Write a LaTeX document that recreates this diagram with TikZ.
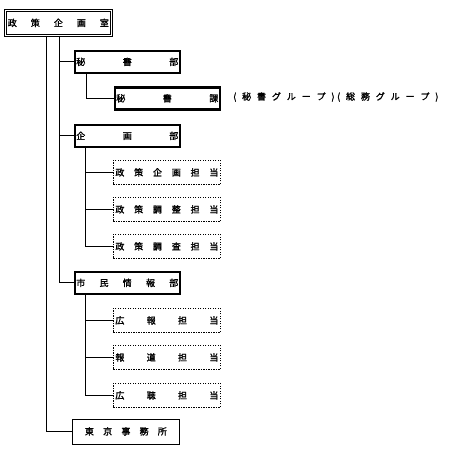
\documentclass[tikz,border=0pt]{standalone}
\usepackage{fontspec}
\setmainfont{Noto Sans CJK JP}[FakeBold=1.6]
\newcommand\dst[2]{\makebox[#1pt][s]{#2}}
\newcommand\gsp{\hspace{5.9pt}}
\begin{document}
\begin{tikzpicture}[x=1pt,y=-1pt,
  every node/.style={font=\fontsize{9}{10}\selectfont, inner sep=0pt},
  unit/.style={draw, minimum width=108pt, minimum height=25pt, anchor=north west},
  topbox/.style={unit, double, double distance=1.3pt, line width=0.7pt, minimum width=106pt, minimum height=25pt},
  bu/.style={unit, line width=2.6pt, minimum width=105pt, minimum height=22pt},
  tanto/.style={unit, dash pattern=on 1.4pt off 1.1pt, line width=1.8pt, minimum width=107pt, minimum height=24pt},
  plain/.style={unit, line width=0.8pt, minimum width=107pt, minimum height=25pt},
  conn/.style={line width=0.8pt}]
\useasboundingbox (0,0) rectangle (455,451);
% coordinates of trunk lines
\coordinate (tl) at (46,0);
\coordinate (tr) at (59,0);
\coordinate (c1) at (86,0);
\coordinate (c2) at (85,0);
% nodes
\node[topbox] (top) at (5,10) {\dst{101}{政\hfill 策\hfill 企\hfill 画\hfill 室}};
\node[bu] (hbu) at (73.5,49.5) {\dst{102}{秘\hfill 書\hfill 部}};
\node[bu] (hka) at (113.5,86) {\dst{102}{秘\hfill 書\hfill 課}};
\node[anchor=west] (note) at (233,97) {(\gsp 秘\gsp 書\gsp グ\gsp ル\gsp ー\gsp プ\gsp )\hspace{2.5pt}(\gsp 総\gsp 務\gsp グ\gsp ル\gsp ー\gsp プ\gsp )};
\node[bu] (kbu) at (73.5,123.5) {\dst{102}{企\hfill 画\hfill 部}};
\node[tanto] (k1) at (112.5,159.5) {\dst{103}{政\hfill 策\hfill 企\hfill 画\hfill 担\hfill 当}};
\node[tanto] (k2) at (112.5,196.5) {\dst{103}{政\hfill 策\hfill 調\hfill 整\hfill 担\hfill 当}};
\node[tanto] (k3) at (112.5,233.5) {\dst{103}{政\hfill 策\hfill 調\hfill 査\hfill 担\hfill 当}};
\node[bu] (sbu) at (73.5,270.5) {\dst{102}{市\hfill 民\hfill 情\hfill 報\hfill 部}};
\node[tanto] (s1) at (112.5,307.5) {\dst{103}{広\hfill 報\hfill 担\hfill 当}};
\node[tanto] (s2) at (112.5,344.5) {\dst{103}{報\hfill 道\hfill 担\hfill 当}};
\node[tanto] (s3) at (112.5,382.5) {\dst{103}{広\hfill 聴\hfill 担\hfill 当}};
\node[plain] (tok) at (72,418.5) {\dst{82}{東\hfill 京\hfill 事\hfill 務\hfill 所}};
% connectors
\draw[conn] (top.south -| tl) |- (tok.west);
\draw[conn] (top.south -| tr) |- (sbu.west);
\draw[conn] (hbu.west -| tr) -- (hbu.west);
\draw[conn] (kbu.west -| tr) -- (kbu.west);
\draw[conn] (hbu.south -| c1) |- (hka.west);
\draw[conn] (kbu.south -| c2) |- (k3.west);
\draw[conn] (k1.west -| c2) -- (k1.west);
\draw[conn] (k2.west -| c2) -- (k2.west);
\draw[conn] (sbu.south -| c2) |- (s3.west);
\draw[conn] (s1.west -| c2) -- (s1.west);
\draw[conn] (s2.west -| c2) -- (s2.west);
\end{tikzpicture}
\end{document}
